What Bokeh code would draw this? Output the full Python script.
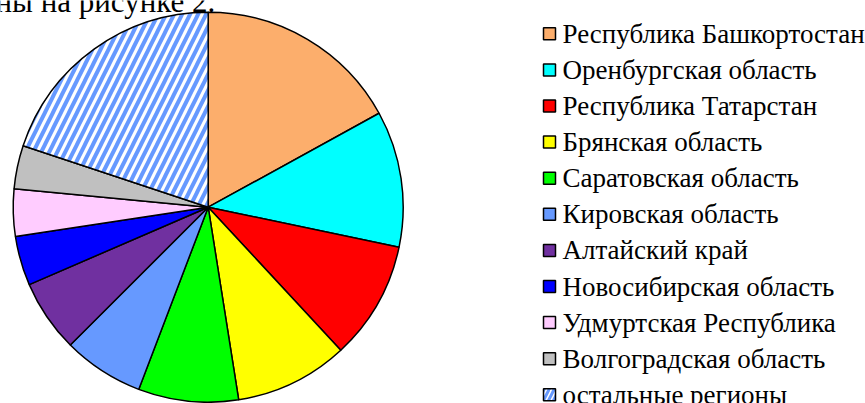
import numpy as np
from bokeh.plotting import figure
from bokeh.models import ColumnDataSource, Range1d
from bokeh.core.properties import value
from bokeh.embed import file_html
from bokeh.resources import INLINE

# ---- data ----
regions = [
    "Республика Башкортостан",
    "Оренбургская область",
    "Республика Татарстан",
    "Брянская область",
    "Саратовская область",
    "Кировская область",
    "Алтайский край",
    "Новосибирская область",
    "Удмуртская Республика",
    "Волгоградская область",
    "остальные регионы",
]
shares = [17.0, 11.3, 9.8, 9.4, 8.3, 6.7, 6.0, 4.1, 3.9, 3.6, 19.9]
colors = ["#FCAE6C", "#00FFFF", "#FF0000", "#FFFF00", "#00FF00", "#6699FF",
          "#7030A0", "#0000FF", "#FFCCFF", "#C0C0C0", "#FFFFFF"]
hatches = ["", "", "", "", "", "", "", "", "", "", "/"]
heading = "ны на рисунке 2."

W, H = 865, 403

p = figure(width=W, height=H, output_backend="svg", toolbar_location=None,
           x_range=Range1d(0, W), y_range=Range1d(0, H),
           min_border=0)
p.axis.visible = False
p.grid.visible = False
p.outline_line_color = None
p.background_fill_color = "white"
p.border_fill_color = "white"

# ---- pie ----
fr = np.array(shares) / sum(shares) * 2 * np.pi
cum = np.concatenate([[0], np.cumsum(fr)])
src = ColumnDataSource(dict(
    start=np.pi / 2 - cum[:-1],
    end=np.pi / 2 - cum[1:],
    color=colors,
    hatch=hatches,
    name=regions,
))
cx, cy, r = 207.7, H - 206.7, 195
p.wedge(x=cx, y=cy, radius=r, start_angle="start", end_angle="end",
        direction="clock", fill_color="color", line_color="black",
        line_width=1.5, hatch_pattern="hatch", hatch_color="#6699FF",
        hatch_weight=4, hatch_scale=16, source=src)

# ---- legend ----
n = len(regions)
row0, step = 33.3, 36.1
rows = H - (row0 + step * np.arange(n))
lsrc = ColumnDataSource(dict(
    x=[549] * n, y=rows, color=colors, hatch=hatches, name=regions,
    tx=[562] * n,
))
p.rect(x="x", y="y", width=12, height=12, fill_color="color",
       line_color="black", line_width=1.5, hatch_pattern="hatch",
       hatch_color="#6699FF", hatch_weight=3, hatch_scale=10, source=lsrc)
p.text(x="tx", y="y", text="name", text_font=value("Liberation Serif"),
       text_font_size="27px", text_color="black", text_baseline="middle",
       text_align="left", source=lsrc)

# ---- partially visible heading (cut off at top) ----
p.text(x=[-5], y=[H - 1], text=[heading], text_font=value("Liberation Serif"),
       text_font_size="31px", text_color="black", text_baseline="middle",
       text_align="left")

open("out.html", "w").write(file_html(p, INLINE))
